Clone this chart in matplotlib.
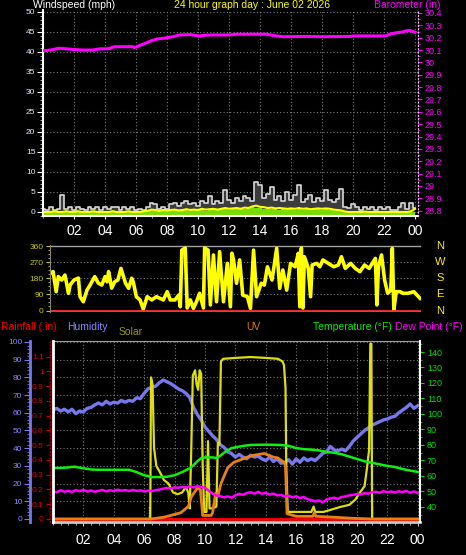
"""24 小时气象面板: 风速/气压, 风向, 湿度/太阳/UV/温度/露点。输出 out.png"""
import matplotlib
matplotlib.use("Agg")
import matplotlib.pyplot as plt
import numpy as np
from matplotlib.ticker import MultipleLocator
from matplotlib.transforms import blended_transform_factory

plt.rcParams["font.family"] = ["Liberation Sans", "DejaVu Sans"]

W, H = 466, 555
GRID = "#7a7a7a"
DOT = (0, (1, 2))

HOUR_TICKS = list(range(2, 25, 2))
HOUR_LABELS = ["02", "04", "06", "08", "10", "12", "14", "16", "18", "20", "22", "00"]

# ---- 15 分钟网格 (0..24h, 97 点) ----
wind_gust = [
    0.8, 0.5, 1.2, 0.5, 0.8, 4.2, 0.8, 1.2,
    0.5, 1.2, 0.8, 0.5, 1.2, 0.8, 1.2, 0.5,
    1.2, 0.8, 1.2, 1.2, 0.5, 1.2, 0.8, 1.2,
    0.5, 0.8, 0.5, 1.2, 2.2, 2.0, 0.8, 1.2,
    0.8, 2.0, 2.2, 1.5, 2.2, 2.8, 2.0, 2.2,
    1.5, 2.8, 2.2, 4.0, 2.0, 2.8, 2.2, 5.5,
    3.0, 2.2, 3.5, 2.8, 4.0, 3.5, 2.8, 7.6,
    6.8, 3.5, 4.5, 6.3, 3.0, 4.0, 2.8, 5.0,
    3.0, 4.2, 6.8, 2.5, 3.2, 4.2, 2.5, 3.5,
    2.8, 5.5, 3.0, 2.5, 3.2, 5.7, 1.2, 1.0,
    2.0, 1.2, 0.5, 1.2, 0.8, 1.2, 0.5, 1.2,
    0.8, 1.2, 0.5, 0.5, 1.2, 2.2, 0.8, 2.2,
    1.0,
]
wind_speed = [
    0, 0, 0, 0.2, 0, 0, 0.2, 0,
    0, 0.2, 0, 0, 0, 0.2, 0, 0,
    0, 0, 0.2, 0, 0, 0, 0.2, 0,
    0, 0, 0.2, 0.3, 0.6, 0.5, 0.3, 0.5,
    0.4, 0.5, 0.6, 0.4, 0.5, 0.7, 0.5, 0.6,
    0.5, 0.8, 0.6, 0.7, 0.8, 0.6, 0.8, 1.0,
    0.8, 0.9, 1.0, 0.8, 1.1, 1.0, 1.4, 1.6,
    1.3, 1.2, 1.0, 1.1, 0.9, 1.0, 0.9, 0.8,
    0.9, 0.8, 1.0, 0.8, 0.9, 0.7, 0.8, 0.9,
    0.8, 0.9, 0.8, 0.6, 0.5, 0.4, 0.1, 0,
    0, 0, 0, 0.1, 0, 0, 0, 0,
    0, 0, 0, 0, 0, 0, 0, 0.2,
    0.8,
]
wind_avg = [
    0, 0, 0, 0, 0, 0, 0, 0,
    0, 0, 0, 0, 0, 0, 0, 0,
    0, 0, 0, 0, 0, 0, 0, 0,
    0, 0, 0, 0.3, 0.5, 0.2, 0.4, 0.3,
    0.5, 0.3, 0.6, 0.2, 0.5, 0.6, 0.3, 0.5,
    0.4, 0.7, 0.3, 0.6, 0.8, 0.4, 0.7, 0.9,
    0.6, 0.9, 0.7, 1.0, 0.8, 1.1, 1.2, 1.0,
    1.1, 0.8, 1.0, 0.7, 0.9, 0.6, 0.8, 0.7,
    0.8, 0.6, 0.9, 0.5, 0.8, 0.6, 0.7, 0.8,
    0.6, 0.8, 0.5, 0.4, 0.3, 0.2, 0, 0,
    0, 0, 0, 0, 0, 0, 0, 0,
    0, 0, 0, 0, 0, 0, 0, 0,
    0,
]
humidity = [
    61.6, 62.5, 61.0, 62.0, 60.5, 62.0, 59.5, 61.0,
    60.5, 62.5, 63.0, 64.5, 65.5, 64.5, 66.5, 65.0,
    66.0, 65.5, 67.0, 66.0, 67.0, 66.5, 68.5, 68.0,
    71.0, 73.5, 74.5, 75.0, 77.0, 78.5, 77.5, 76.5,
    75.0, 73.5, 72.5, 71.0, 68.5, 63.0, 59.0, 56.0,
    52.0, 49.5, 47.0, 45.0, 42.0, 40.5, 38.0, 37.0,
    35.0, 36.5, 35.0, 34.0, 36.0, 35.0, 35.5, 34.0,
    33.0, 35.0, 32.5, 34.0, 31.5, 32.0, 33.5, 31.0,
    34.0, 32.0, 34.5, 33.0, 34.0, 33.0, 35.0, 37.0,
    38.0, 41.0, 39.0, 38.5, 39.5, 38.5, 41.0, 44.0,
    46.0, 48.0, 50.0, 51.5, 53.0, 54.0, 55.0, 56.0,
    56.5, 57.5, 58.0, 60.0, 61.5, 63.0, 65.0, 62.5,
    64.0,
]
dew_point = [
    50.0, 49.5, 50.8, 49.8, 50.5, 49.6, 50.9, 50.2,
    51.0, 50.0, 50.6, 49.8, 50.4, 51.0, 50.1, 50.8,
    50.2, 51.2, 50.5, 50.9, 50.3, 51.0, 50.4, 50.7,
    50.0, 50.6, 50.2, 50.8, 51.2, 51.8, 52.3, 51.9,
    52.6, 52.4, 53.0, 52.5, 53.2, 52.6, 53.4, 52.8,
    52.5, 50.5, 48.5, 47.5, 47.0, 46.2, 46.8, 46.0,
    47.5, 48.5, 47.8, 49.0, 49.5, 48.6, 49.8, 48.5,
    49.2, 48.0, 48.6, 47.5, 47.8, 46.8, 47.3, 46.2,
    46.9, 45.8, 46.4, 45.0, 44.5, 43.6, 44.2, 43.0,
    44.8, 45.5, 46.0, 45.2, 46.5, 46.8, 47.5, 47.8,
    48.3, 48.0, 49.0, 48.6, 49.5, 49.8, 49.2, 50.2,
    49.5, 50.0, 49.3, 50.1, 49.6, 50.4, 49.2, 50.0,
    49.0,
]
t_q = np.arange(len(humidity)) * 0.25

# ---- 不规则时间点 ----
baro_t = [0.1, 0.5, 1.0, 1.5, 2.0, 2.6, 3.2, 3.7, 4.2, 4.6, 5.2, 5.8, 5.9, 6.1, 6.45,
          7.0, 7.4, 7.75, 8.4, 8.8, 9.5, 10.1, 10.5, 11.0, 12.0, 12.5, 13.5, 14.4, 15.0,
          15.5, 17.0, 18.0, 19.8, 20.0, 22.1, 22.4, 22.8, 23.2, 23.5, 23.7, 24.0]
baro_v = [30.095, 30.10, 30.114, 30.11, 30.104, 30.10, 30.10, 30.11, 30.11, 30.127,
          30.127, 30.127, 30.12, 30.13, 30.147, 30.176, 30.19, 30.195, 30.208, 30.222,
          30.225, 30.214, 30.22, 30.222, 30.222, 30.228, 30.228, 30.228, 30.215, 30.208,
          30.21, 30.208, 30.21, 30.214, 30.214, 30.23, 30.24, 30.246, 30.257, 30.257, 30.244]

wd_t = [0, 0.2, 0.4, 0.54, 0.76, 0.97, 1.2, 1.3, 1.56, 1.84,
        1.95, 2.16, 2.4, 2.6, 2.9, 3.14, 3.36, 3.57, 3.7, 3.8,
        4.0, 4.2, 4.4, 4.6, 4.9, 5.1, 5.3, 5.4, 5.6, 5.84,
        6.05, 6.3, 6.6, 6.9, 7.35, 7.6, 7.8, 8.1, 8.35, 8.45,
        8.55, 8.77, 8.9, 9.1, 9.3, 9.5, 9.7, 9.95, 10.03, 10.25,
        10.4, 10.6, 10.8, 11.0, 11.25, 11.5, 11.7, 11.8, 11.9, 12.1,
        12.3, 12.5, 12.8, 13.0, 13.2, 13.4, 13.7, 13.9, 14.1, 14.4,
        14.7, 14.9, 15.1, 15.35, 15.6, 15.9, 16.1, 16.2, 16.3, 16.4,
        16.5, 16.75, 16.9, 17.0, 17.3, 17.5, 17.7, 18.05, 18.4, 18.7,
        18.9, 19.15, 19.5, 19.8, 20.1, 20.4, 20.7, 21.1, 21.2, 21.3,
        21.5, 21.7, 21.9, 22.1, 22.2, 22.3, 22.45, 22.7, 22.9, 23.2,
        23.6, 23.8, 24.0]
wd_v = [207, 217, 105, 189, 170, 198, 96, 142, 170, 181,
        77, 49, 114, 142, 189, 152, 142, 189, 160, 217,
        125, 161, 170, 235, 152, 124, 180, 160, 77, 59,
        8, 77, 59, 77, 59, 105, 59, 59, 86, 21,
        337, 349, 14, 59, 12, 49, 96, 14, 349, 337,
        31, 310, 49, 328, 49, 263, 21, 320, 282, 152,
        282, 86, 77, 12, 337, 77, 152, 142, 244, 170,
        347, 124, 226, 114, 263, 244, 319, 21, 349, 14,
        300, 235, 77, 254, 263, 244, 282, 263, 244, 254,
        300, 235, 263, 235, 217, 254, 235, 291, 31, 244,
        310, 170, 96, 114, 347, 3, 105, 105, 96, 96,
        105, 86, 68]

temp_t = [0, 0.5, 1.0, 1.4, 1.8, 2.5, 3.0, 4.0, 5.0, 5.5, 6.0, 6.5, 7.0, 7.5, 8.0,
          8.5, 9.0, 9.25, 9.5, 9.75, 10.0, 10.5, 10.75, 11.0, 11.25, 11.5, 11.75, 12.0,
          12.5, 13.0, 14.0, 15.0, 15.5, 16.0, 16.5, 17.0, 17.5, 18.0, 18.5, 19.0, 19.5,
          20.0, 20.5, 21.0, 21.5, 22.0, 22.5, 23.0, 23.5, 24.0]
temp_v = [65.2, 65.2, 65.5, 66.0, 65.3, 64.2, 64.0, 64.0, 64.0, 62.5, 60.5, 59.3, 59.3,
          59.5, 60.5, 62.5, 65.0, 67.0, 69.5, 71.5, 72.0, 72.0, 71.6, 73.0, 75.0, 76.5,
          78.0, 78.5, 79.4, 80.0, 80.2, 80.0, 79.5, 78.0, 77.3, 77.0, 76.5, 75.5, 75.0,
          74.0, 72.5, 71.0, 69.5, 68.5, 67.5, 66.5, 65.8, 64.5, 63.5, 62.6]

solar_t = [0, 6.4, 6.45, 6.55, 6.65, 6.8, 7.0, 7.3, 7.6, 7.9, 8.2, 8.5, 8.75, 8.9, 9.0,
           9.1, 9.2, 9.35, 9.45, 9.55, 9.65, 9.75, 9.85, 9.95, 10.1, 10.2, 10.3, 10.5,
           10.75, 10.85, 10.95, 11.05, 11.2, 12.0, 13.0, 14.0, 14.8, 15.1, 15.2, 15.3,
           15.35, 15.45, 16.0, 17.0, 17.15, 17.25, 17.8, 18.2, 18.9, 19.5, 19.9, 20.2,
           20.5, 20.65, 20.8, 20.88, 20.95, 21.0, 24.0]
solar_v = [0, 0, 800, 760, 400, 300, 270, 220, 200, 150, 140, 150, 180, 150, 60,
           400, 810, 840, 760, 730, 840, 820, 300, 40, 40, 440, 60, 60,
           70, 430, 420, 890, 905, 910, 915, 910, 905, 890, 870, 740,
           300, 40, 40, 40, 70, 40, 40, 50, 68, 80, 110, 150,
           185, 280, 390, 990, 990, 0, 0]

uv_t = [0, 6.45, 7.3, 8.4, 8.9, 9.1, 9.3, 9.5, 9.7, 9.85, 10.4, 10.5, 10.7, 10.85, 11.05,
        11.5, 11.9, 12.8, 13.2, 13.9, 14.5, 14.8, 15.2, 15.3, 15.4, 16.0, 17.1, 17.2,
        17.3, 18.5, 19.5, 20.0, 21.0, 24.0]
uv_v = [0, 0, 0.1, 0.35, 0.7, 1.25, 1.5, 1.75, 1.65, 0.2, 0.2, 0.35, 1.45, 1.3, 2.0,
        2.9, 3.2, 3.5, 3.6, 3.7, 3.5, 3.45, 3.2, 3.0, 0.3, 0.15, 0.15, 0.35,
        0.15, 0.1, 0.05, 0.03, 0, 0]

rain_t = [0, 24]
rain_v = [0.0, 0.0]

sun_events = [6.33, 21.0]   # 日出 / 日落标记
compass = [("N", 0), ("E", 90), ("S", 180), ("W", 270), ("N", 360)]


def px_axes(fig, left, top, right, bottom):
    return fig.add_axes([left / W, 1 - bottom / H, (right - left) / W, (bottom - top) / H])


def hide_spines(ax, keep=()):
    for name, sp in ax.spines.items():
        sp.set_visible(name in keep)


fig = plt.figure(figsize=(W / 100, H / 100), dpi=100, facecolor="black")

# ============ 上: 风速 + 气压 ============
ax1 = px_axes(fig, 43, 10, 418, 216)
ax1.set_facecolor("black")
ax1.set_xlim(0, 24.19)
ax1.set_ylim(-1, 50.5)
ax1.set_xticks(HOUR_TICKS)
ax1.set_xticklabels(HOUR_LABELS)
ax1.set_yticks(range(0, 51, 5))
ax1.xaxis.set_minor_locator(MultipleLocator(1))
ax1.yaxis.set_minor_locator(MultipleLocator(1))
ax1.grid(True, color=GRID, ls=DOT, lw=0.8)
ax1.set_axisbelow(True)
ax1.fill_between(t_q, -1, wind_gust, step="mid", color="#3c3c3c", lw=0)
ax1.fill_between(t_q, -1, wind_avg, step="mid", color="#77DD00", lw=0)
ax1.plot(t_q, wind_gust, drawstyle="steps-mid", color="#D8D8D8", lw=1.2)
ax1.plot(t_q, wind_speed, color="#FFFF00", lw=1.5)
hide_spines(ax1, keep=("left", "bottom"))
ax1.spines["left"].set_color("white")
ax1.spines["left"].set_linewidth(1.5)
ax1.spines["bottom"].set_color("white")
ax1.spines["bottom"].set_linewidth(1.5)
ax1.tick_params(axis="y", which="major", colors="white", labelcolor="#DDE8FF",
                labelsize=6, length=4, pad=1.5)
ax1.tick_params(axis="y", which="minor", colors="#BBBBBB", length=2)
ax1.tick_params(axis="x", which="major", colors="white", labelsize=10, length=2, pad=3.5)
ax1.tick_params(axis="x", which="minor", colors="#BBBBBB", length=1.5)

ax1b = ax1.twinx()
ax1b.set_ylim(28.757, 30.424)
ax1b.plot(baro_t, baro_v, color="#FF00FF", lw=2.2)
hide_spines(ax1b, keep=("right",))
ax1b.spines["right"].set_color("#FFB8FF")
ax1b.spines["right"].set_linestyle(DOT)
baro_ticks = np.round(np.arange(28.8, 30.41, 0.1), 1)
ax1b.set_yticks(baro_ticks)
ax1b.set_yticklabels([f"{v:g}" for v in baro_ticks])
ax1b.yaxis.set_minor_locator(MultipleLocator(0.05))
ax1b.tick_params(axis="y", which="major", colors="#FF00FF", labelsize=6.5, length=3, pad=2)
ax1b.tick_params(axis="y", which="minor", colors="#FF00FF", length=1.5)

# ============ 中: 风向 ============
ax2 = px_axes(fig, 50, 245, 421, 311.5)
ax2.set_facecolor("black")
ax2.set_xlim(0, 24.06)
ax2.set_ylim(-5.58, 365.6)
for d in (90, 180, 270):
    ax2.axhline(d, color=GRID, ls=DOT, lw=0.8)
ax2.axhline(360, color="#A0A0A0", lw=1)
ax2.plot(wd_t, wd_v, color="#FFFF00", lw=2.6)
ax2.axhline(0, color="#FF3030", lw=2)
ax2.set_xticks([])
ax2.set_yticks([0, 90, 180, 270, 360])
ax2.yaxis.set_minor_locator(MultipleLocator(22.5))
hide_spines(ax2, keep=("left",))
ax2.spines["left"].set_color("#808080")
ax2.tick_params(axis="y", which="major", colors="#C8C800", labelsize=6, length=3, pad=1.5)
ax2.tick_params(axis="y", which="minor", colors="#C8C800", length=1.5)
tr = blended_transform_factory(ax2.transAxes, ax2.transData)
for lab, deg in compass:
    ax2.text(1.051, deg, lab, transform=tr, color="#FFEE00", fontsize=8,
             ha="center", va="center")

# ============ 下: 湿度 / 雨量 / 太阳 / UV / 温度 ============
ax3 = px_axes(fig, 53, 341, 420, 522)
ax3.set_facecolor("black")
ax3.set_xlim(0, 24.15)
ax3.set_ylim(-1.7, 100.56)
ax3.set_xticks(HOUR_TICKS)
ax3.set_xticklabels(HOUR_LABELS)
ax3.set_yticks(range(0, 101, 10))
ax3.xaxis.set_minor_locator(MultipleLocator(0.5))
ax3.yaxis.set_minor_locator(MultipleLocator(2))
ax3.grid(True, color=GRID, ls=DOT, lw=0.8)
ax3.set_axisbelow(True)
ax3.spines["left"].set_position(("outward", 23 * 0.72))
ax3.spines["left"].set_color("#7777EE")
ax3.spines["left"].set_linewidth(2)
ax3.spines["bottom"].set_color("#C8C8C8")
ax3.spines["bottom"].set_linewidth(2)
ax3.spines["top"].set_color("#A0A0A0")
ax3.spines["right"].set_visible(False)
ax3.tick_params(axis="y", which="major", colors="#7777EE", labelcolor="#8888FF",
                labelsize=6, length=4, pad=1.5)
ax3.tick_params(axis="y", which="minor", colors="#7777EE", length=2)
ax3.tick_params(axis="x", which="major", colors="#C8C8C8", labelcolor="white",
                labelsize=10, length=3, pad=5)
ax3.tick_params(axis="x", which="minor", colors="#C8C8C8", length=2)
ax3.plot(t_q, humidity, color="#7777EE", lw=2.4)
ax3.vlines(sun_events, 0, 8, colors="white", linestyles=(0, (1, 1)), lw=1)

axs = ax3.twinx()
axs.set_ylim(-17, 1005.6)
axs.axis("off")
axs.plot(solar_t, solar_v, color="#DDDD11", lw=1.6)

axr = ax3.twinx()
axr.set_ylim(-0.0204, 1.2067)
hide_spines(axr, keep=("left",))
axr.spines["left"].set_position(("outward", 3 * 0.72))
axr.spines["left"].set_color("#AA0000")
axr.spines["left"].set_linestyle(DOT)
axr.yaxis.tick_left()
rain_ticks = np.round(np.arange(0, 1.15, 0.1), 1)
axr.set_yticks(rain_ticks)
axr.set_yticklabels([f"{v:g}" for v in rain_ticks])
axr.tick_params(axis="y", colors="#CC0000", labelcolor="#DD0000", labelsize=6,
                length=3, pad=1.5)
axr.plot(rain_t, rain_v, color="#FF0000", lw=2)

axu = ax3.twinx()
axu.set_ylim(-0.17, 10.056)
axu.axis("off")
axu.plot(uv_t, uv_v, color="#E8801A", lw=2)

axt = ax3.twinx()
axt.set_ylim(30.3, 147.1)
hide_spines(axt, keep=("left", "right"))
axt.spines["left"].set_color("white")
axt.spines["left"].set_linewidth(2)
axt.spines["right"].set_color("white")
axt.spines["right"].set_linewidth(1.5)
axt.set_yticks(range(40, 141, 10))
axt.yaxis.set_minor_locator(MultipleLocator(5))
axt.tick_params(axis="y", which="major", colors="#00DD00", labelsize=6.5, length=3, pad=2)
axt.tick_params(axis="y", which="minor", colors="#00DD00", length=1.5)
axt.plot(temp_t, temp_v, color="#11EE11", lw=1.8)
axt.plot(t_q, dew_point, color="#FF00FF", lw=1.8)

# ============ 文字标签 ============
labels = [
    ("Windspeed (mph)", 33, 5, 7.5, "white", "left"),
    ("24 hour graph day : June 02 2026", 252, 5, 7.5, "#FFFF00", "center"),
    ("Barometer (in)", 440, 5, 7.5, "#FF00FF", "right"),
    ("Rainfall (.in)", 1, 327, 7.5, "#FF0000", "left"),
    ("Humidity", 67, 327, 7.5, "#8888FF", "left"),
    ("Solar", 119, 332, 7.5, "#999900", "left"),
    ("UV", 246, 327, 7.5, "#E07818", "left"),
    ("Temperature (°F)", 313, 327, 7.5, "#00EE00", "left"),
    ("Dew Point (°F)", 395, 327, 7.5, "#FF00FF", "left"),
]
for text, x, y, size, color, ha in labels:
    fig.text(x / W, 1 - y / H, text, color=color, fontsize=size, ha=ha, va="center")

fig.savefig("out.png", dpi=100, facecolor="black")
